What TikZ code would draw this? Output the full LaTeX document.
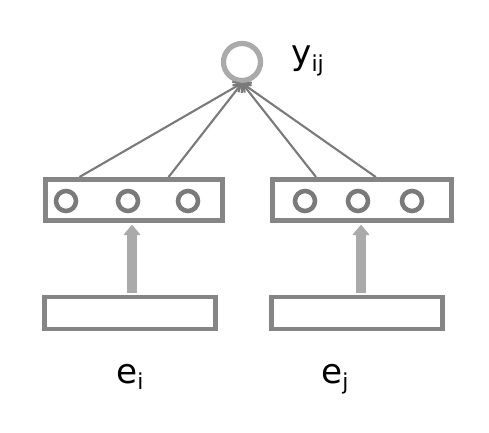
\documentclass[tikz,border=0pt]{standalone}
\usepackage{fontspec}
\setmainfont{DejaVu Sans}
\usepackage{tikz}
\usetikzlibrary{positioning,arrows.meta,calc}
\usepackage{xcolor}

\definecolor{boxgray}{HTML}{858585}
\definecolor{linegray}{HTML}{7A7A7A}
\definecolor{lightgray}{HTML}{AAAAAA}

\newcommand{\lowsub}[1]{\raisebox{-0.2em}{\fontsize{12.5}{13}\selectfont #1}}

\begin{document}
\begin{tikzpicture}[
    x=0.02cm, y=-0.02cm,
    layerbox/.style={draw=boxgray, line width=2.8pt, fill=white, minimum width=#1, minimum height=41*0.02cm, inner sep=0pt},
    layerbox/.default={177*0.02cm},
    inbox/.style={draw=boxgray, line width=2.8pt, fill=white, minimum width=171*0.02cm, minimum height=32*0.02cm, inner sep=0pt},
    unit/.style={circle, draw=linegray, line width=2.6pt, minimum size=20*0.02cm, inner sep=0pt},
    outunit/.style={circle, draw=lightgray, line width=3pt, minimum size=37*0.02cm, inner sep=0pt},
    conn/.style={-{Straight Barb[length=3.5pt,width=7pt]}, draw=linegray, line width=1.2pt},
    feed/.style={-{Triangle[length=6pt,width=10pt,line width=0.6pt,round]}, draw=lightgray, line width=5.7pt},
    lbl/.style={font=\fontsize{19.5}{22}\selectfont, inner sep=0pt, anchor=base west},
]
\useasboundingbox (0,0) rectangle (489,432);

% output
\node[outunit] (out) at (242,62) {};
\node[lbl] (laby) at (291,65) {y\lowsub{ij}};

% hidden layers
\node[layerbox] (hidI) at (134,200) {};
\node[layerbox={179*0.02cm}] (hidJ) at (362,200) {};
\node[unit] (uI1) at (66,201) {};
\node[unit] (uI2) at (128,201) {};
\node[unit] (uI3) at (188,201) {};
\node[unit] (uJ1) at (305,201) {};
\node[unit] (uJ2) at (358,201) {};
\node[unit] (uJ3) at (412,201) {};

% inputs
\node[inbox] (inI) at (130,313) {};
\node[inbox] (inJ) at (357,313) {};
\node[lbl] (labI) at (116,383) {e\lowsub{i}};
\node[lbl] (labJ) at (321,383) {e\lowsub{j}};

% ===== ARROWS =====
\draw[feed] ($(inI.north)+(2,-1.4)$) -- ($(inI.north |- hidI.south)+(2,2)$);
\draw[feed] ($(inJ.north)+(4,-1.4)$) -- ($(inJ.north |- hidJ.south)+(4,2)$);
\draw[conn] ($(hidI.north west)!0.2!(hidI.north east)$) -- (out.south);
\draw[conn] ($(hidI.north west)!0.69!(hidI.north east)$) -- (out.south);
\draw[conn] ($(hidJ.north west)!0.25!(hidJ.north east)$) -- (out.south);
\draw[conn] ($(hidJ.north west)!0.575!(hidJ.north east)$) -- (out.south);

\end{tikzpicture}
\end{document}
